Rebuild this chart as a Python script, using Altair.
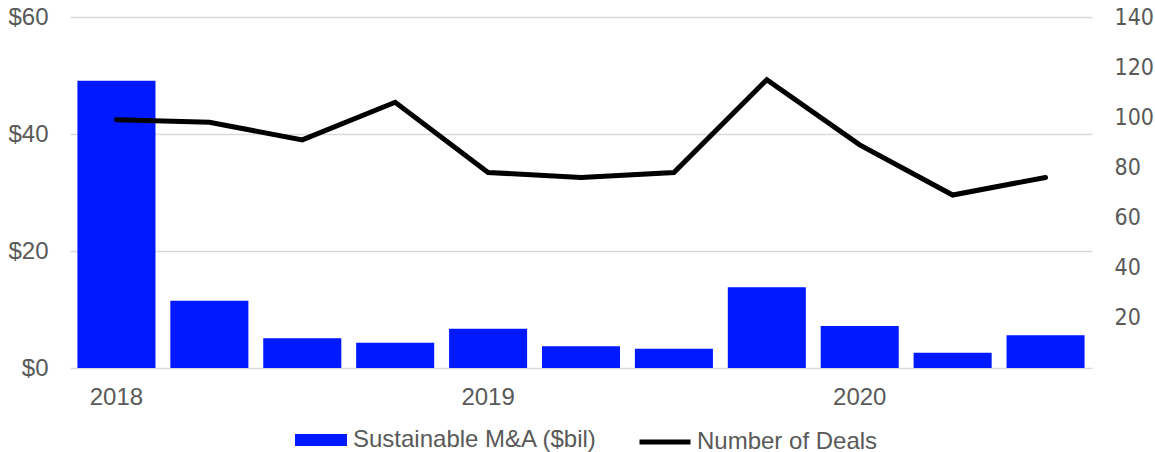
import altair as alt
import pandas as pd

# Quarterly sustainable M&A value and deal count, 2018 Q1 - 2020 Q3
quarters = ["2018 Q1", "2018 Q2", "2018 Q3", "2018 Q4",
            "2019 Q1", "2019 Q2", "2019 Q3", "2019 Q4",
            "2020 Q1", "2020 Q2", "2020 Q3"]
value_bil = [49.1, 11.5, 5.1, 4.3, 6.7, 3.7, 3.3, 13.8, 7.2, 2.6, 5.6]
num_deals = [99, 98, 91, 106, 78, 76, 78, 115, 89, 69, 76]

left_ticks = [0, 20, 40, 60]
right_ticks = [20, 40, 60, 80, 100, 120, 140]

BAR_LABEL = "Sustainable M&A ($bil)"
LINE_LABEL = "Number of Deals"

df = pd.DataFrame({"quarter": quarters, "value": value_bil, "deals": num_deals})

GRAY = "#595959"
FONT = "Liberation Sans"
FS = 24

x_enc = alt.X(
    "quarter:O",
    sort=quarters,
    title=None,
    scale=alt.Scale(paddingInner=0.16, paddingOuter=0.08),
    axis=alt.Axis(
        labelExpr="indexof(datum.value, 'Q1') >= 0 ? slice(datum.value, 0, 4) : ''",
        labelAngle=0,
        labelFont=FONT,
        labelFontSize=FS,
        labelColor=GRAY,
        labelPadding=17,
        ticks=False,
        tickSize=0,
        domain=False,
        grid=False,
    ),
)

bars = alt.Chart(df).mark_bar(color="#0019FF").encode(
    x=x_enc,
    y=alt.Y(
        "value:Q",
        title=None,
        scale=alt.Scale(domain=[0, 60], nice=False),
        axis=alt.Axis(
            values=left_ticks,
            labelExpr="'$' + datum.value",
            labelFont=FONT,
            labelFontSize=FS,
            labelColor=GRAY,
            labelPadding=22,
            ticks=False,
            tickSize=0,
            domain=False,
            grid=True,
            gridColor="#D9D9D9",
            gridWidth=1.5,
        ),
    ),
    color=alt.Color(
        "series:N",
        scale=alt.Scale(domain=[BAR_LABEL], range=["#0019FF"]),
        legend=alt.Legend(
            title=None,
            orient="none",
            legendX=225,
            legendY=397,
            padding=0,
            symbolType="M-1,-0.23H1V0.23H-1Z",
            symbolSize=2704,
            symbolStrokeWidth=0,
            labelOffset=6,
            labelLimit=600,
            labelFont=FONT,
            labelFontSize=FS,
            labelColor=GRAY,
        ),
    ),
).transform_calculate(series=f"'{BAR_LABEL}'")

line = alt.Chart(df).mark_line(
    color="black", strokeWidth=5, strokeCap="round", strokeJoin="miter"
).encode(
    x=x_enc,
    y=alt.Y(
        "deals:Q",
        title=None,
        scale=alt.Scale(domain=[0, 140], nice=False),
        axis=alt.Axis(
            orient="right",
            values=right_ticks,
            labelFont="DejaVu Sans Condensed",
            labelFontSize=23,
            labelColor=GRAY,
            labelPadding=22,
            ticks=False,
            tickSize=0,
            domain=False,
            grid=False,
        ),
    ),
    stroke=alt.Stroke(
        "series:N",
        scale=alt.Scale(domain=[LINE_LABEL], range=["black"]),
        legend=alt.Legend(
            title=None,
            orient="none",
            legendX=567,
            legendY=397,
            padding=0,
            symbolType="stroke",
            symbolSize=2601,
            symbolStrokeWidth=5,
            labelOffset=4,
            labelLimit=600,
            labelFont=FONT,
            labelFontSize=FS,
            labelColor=GRAY,
        ),
    ),
).transform_calculate(series=f"'{LINE_LABEL}'")

chart = (
    alt.layer(bars, line)
    .resolve_scale(y="independent", color="independent", stroke="independent")
    .properties(
        width=1022,
        height=351,
        padding={"left": 70, "top": 17, "right": 63, "bottom": 84},
        autosize=alt.AutoSizeParams(type="none"),
        background="white",
    )
    .configure_view(stroke=None)
)

chart.save("out.html", embed_options={"renderer": "svg", "actions": False})
